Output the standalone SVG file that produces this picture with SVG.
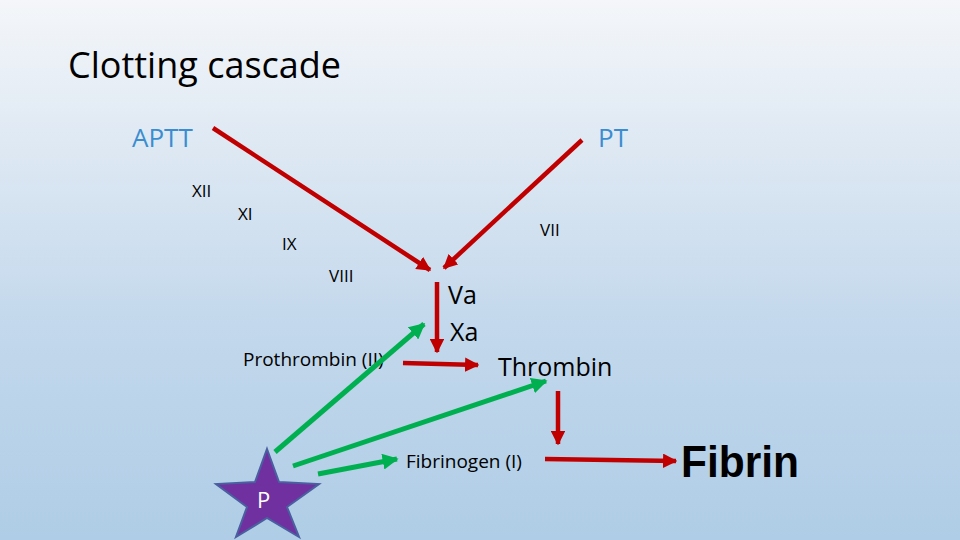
<svg xmlns="http://www.w3.org/2000/svg" width="960" height="540" viewBox="0 0 960 540">
<defs>
<linearGradient id="bg" x1="0" y1="0" x2="0" y2="1"><stop offset="0" stop-color="#f4f6f9"/><stop offset="0.6" stop-color="#c3d8ec"/><stop offset="1" stop-color="#afcde6"/></linearGradient>
<marker id="ar" viewBox="0 0 10 10" refX="9" refY="5" markerWidth="3.2" markerHeight="3.2" orient="auto" markerUnits="strokeWidth"><path d="M0,0L10,5L0,10z" fill="#c00000"/></marker>
<marker id="ag" viewBox="0 0 10 10" refX="9" refY="5" markerWidth="3.2" markerHeight="3.2" orient="auto" markerUnits="strokeWidth"><path d="M0,0L10,5L0,10z" fill="#00b050"/></marker>
</defs>
<style>
text{font-family:"Open Sans","Liberation Sans",sans-serif;fill:#000}
.r{stroke:#c00000;stroke-width:4.5;fill:none;marker-end:url(#ar)}
.g{stroke:#00b050;stroke-width:5;fill:none;marker-end:url(#ag)}
.b{fill:#3f8fd0;font-size:26px}
.s{font-size:17px}
</style>
<rect width="960" height="540" fill="url(#bg)"/>
<text x="68" y="78" font-size="36" fill="#222">Clotting cascade</text>
<g id="aptt"><text class="b" x="132" y="147" style="fill:#3b8dd0">APTT</text></g>
<g id="pt"><text class="b" x="598" y="147" style="fill:#3b8dd0">PT</text></g>
<g id="xii"><text class="s" x="192" y="197">XII</text></g>
<g id="xi"><text class="s" x="238" y="220">XI</text></g>
<g id="ix"><text class="s" x="282" y="250">IX</text></g>
<g id="vii"><text class="s" x="540" y="236">VII</text></g>
<g id="viii"><text class="s" x="329" y="282">VIII</text></g>
<g id="vaxa"><text x="448" y="304" font-size="25">Va</text><text x="450" y="341" font-size="25">Xa</text></g>
<g id="prothrombin"><text x="243" y="366" font-size="19">Prothrombin (II)</text></g>
<g id="thrombin"><text x="498" y="376" font-size="25">Thrombin</text></g>
<g id="fibrinogen"><text x="406" y="468" font-size="19">Fibrinogen (I)</text></g>
<g id="fibrin"><text x="681" y="477" font-size="44" font-weight="bold" textLength="118" lengthAdjust="spacingAndGlyphs" style="font-family:'Liberation Sans',sans-serif">Fibrin</text></g>
<g id="p"><polygon points="267,449 279,482 319,484 287,507 299,537 267,518 236,537 247,507 216,484 255,482" fill="#7030a0" stroke="#4a5fa0" stroke-width="2"/><text x="257" y="508" font-size="22" style="fill:#fff">P</text></g>
<g id="connectors">
<path class="r" d="M213,128L430,270"/>
<path class="r" d="M582,140L444,268"/>
<path class="r" d="M437,282V352"/>
<path class="r" d="M403,363L478,365"/>
<path class="r" d="M558,391V444"/>
<path class="r" d="M545,459L676,461"/>
<path class="g" d="M275,452L424,324"/>
<path class="g" d="M293,466L546,381"/>
<path class="g" d="M318,474L397,459"/>
</g>
</svg>
